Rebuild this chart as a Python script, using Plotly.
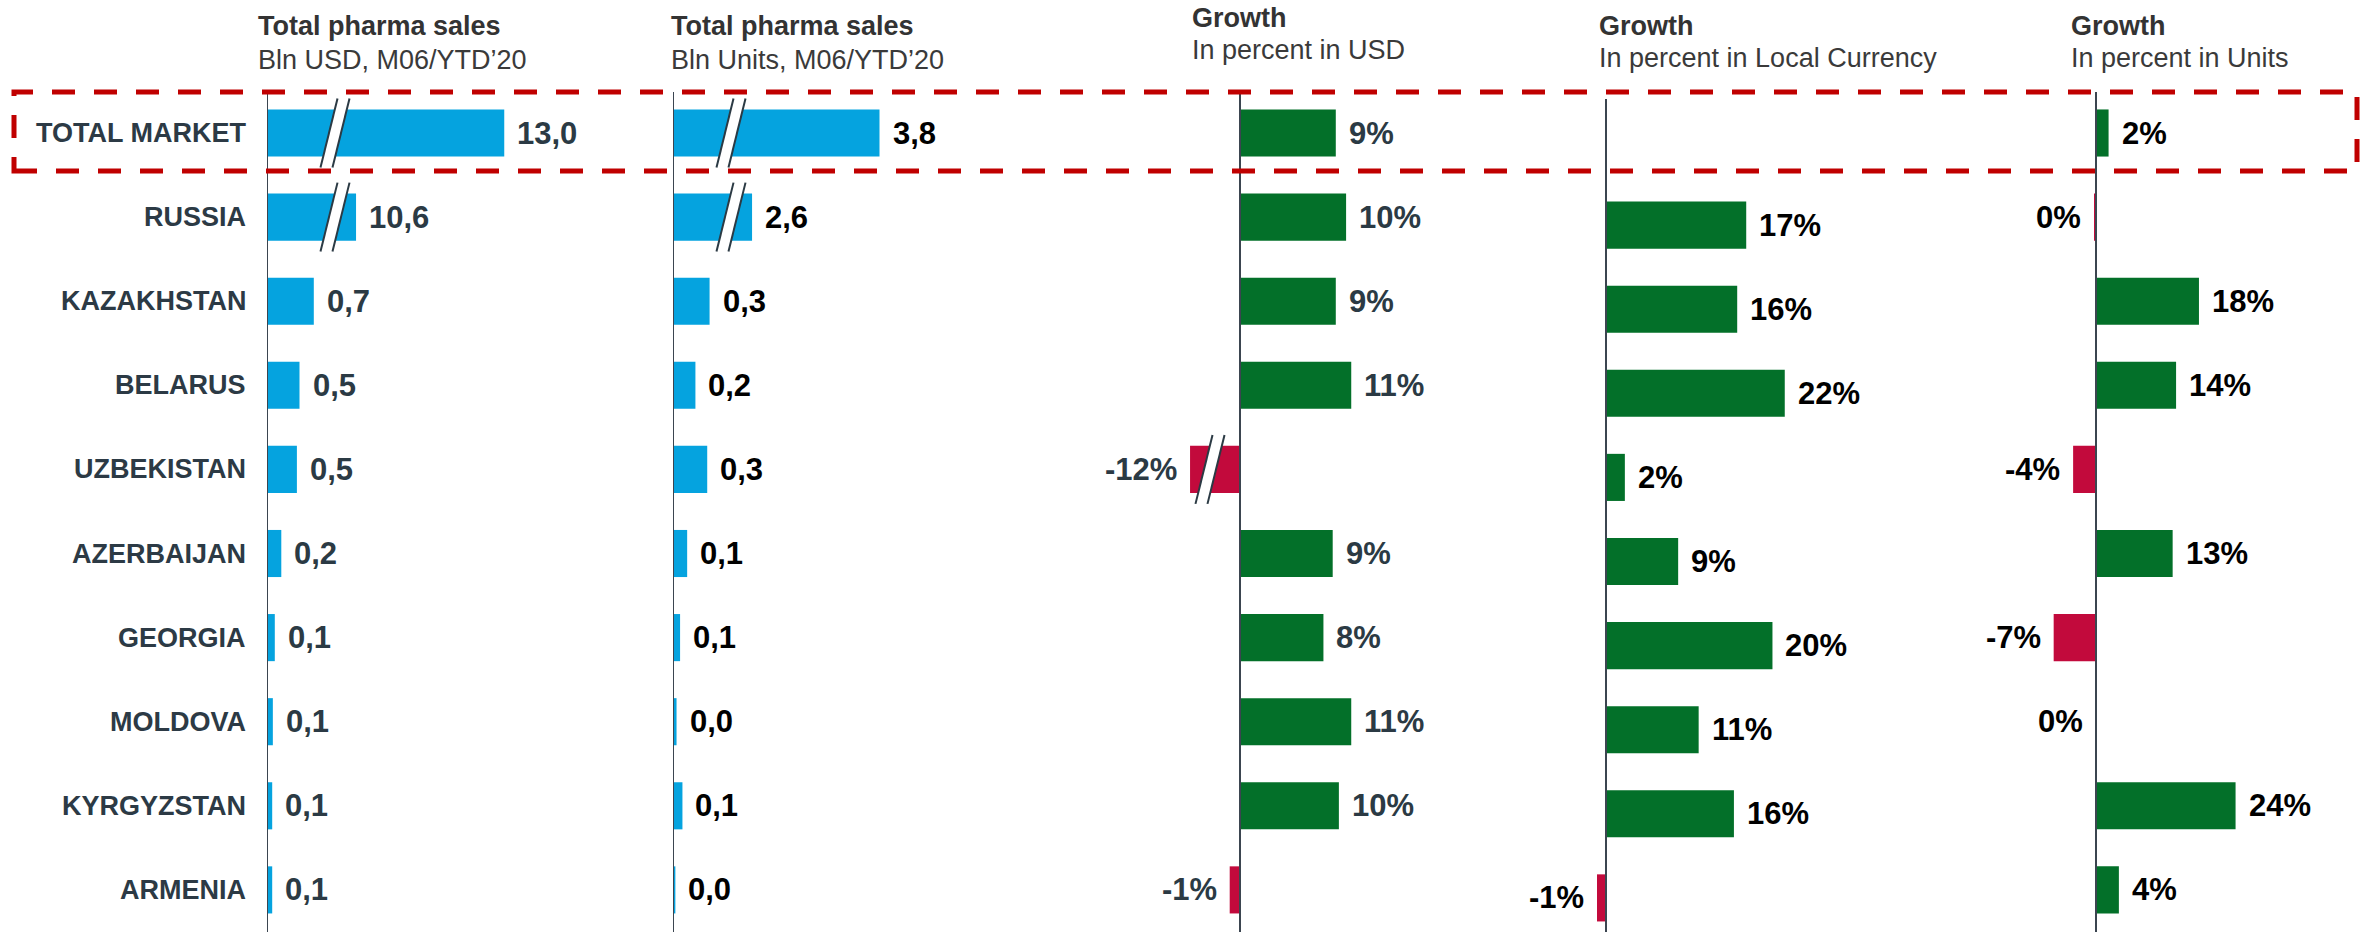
import plotly.graph_objects as go

# ---------------- data ----------------
countries = ["TOTAL MARKET", "RUSSIA", "KAZAKHSTAN", "BELARUS", "UZBEKISTAN",
             "AZERBAIJAN", "GEORGIA", "MOLDOVA", "KYRGYZSTAN", "ARMENIA"]
sales_usd_bln = [13.0, 10.6, 0.72, 0.50, 0.46, 0.22, 0.12, 0.09, 0.08, 0.08]
sales_units_bln = [3.8, 2.6, 0.31, 0.19, 0.29, 0.12, 0.06, 0.03, 0.08, 0.02]
growth_usd_pct = [9.3, 10.3, 9.3, 10.8, -12.0, 9.0, 8.1, 10.8, 9.6, -1.0]
growth_lc_pct = [None, 17.1, 16.0, 21.8, 2.3, 8.8, 20.3, 11.3, 15.6, -1.1]
growth_units_pct = [2.2, -0.3, 18.0, 14.0, -4.0, 13.4, -7.4, -0.04, 24.4, 4.0]

# bars drawn with an axis break: shown (truncated) length in axis units
usd_break_shown = {0: 3.65, 1: 1.37}
units_break_shown = {0: 1.75, 1: 0.67}
growth_usd_break_shown = {4: -4.85}

headers = [
    ("Total pharma sales", "Bln USD, M06/YTD\u201920"),
    ("Total pharma sales", "Bln Units, M06/YTD\u201920"),
    ("Growth", "In percent in USD"),
    ("Growth", "In percent in Local Currency"),
    ("Growth", "In percent in Units"),
]

# ---------------- style / layout ----------------
W, H = 2364, 932
ROW0, PITCH = 133, 84.1
BAR_W = 0.56
FONT = "Liberation Sans, Arial, Helvetica, sans-serif"
BLUE, GREEN, RED = "#05A3DF", "#037029", "#C20A3C"
SLATE = "#2B3A44"
AXIS_C = "#3B4550"
BOX_C = "#C00000"


def yrange(offset=0):
    return [(H - ROW0 - offset) / PITCH, -(ROW0 + offset) / PITCH]


panels = [
    dict(vals=sales_usd_bln, shown=usd_break_shown, zero=267, ppu=65.0, left=267, right=620,
         fmt="dec", lab=SLATE, brk=68, yax="y", top=92, hx=256, hy=(26, 60)),
    dict(vals=sales_units_bln, shown=units_break_shown, zero=673, ppu=118.0, left=673, right=1000,
         fmt="dec", lab="#000000", brk=58, yax="y", top=92, hx=669, hy=(26, 60)),
    dict(vals=growth_usd_pct, shown=growth_usd_break_shown, zero=1240, ppu=10.3, left=1150, right=1500,
         fmt="pct", lab=SLATE, brk=-30, yax="y", top=92, hx=1190, hy=(18, 50)),
    dict(vals=growth_lc_pct, shown={}, zero=1606, ppu=8.2, left=1530, right=1950,
         fmt="pct", lab="#000000", brk=None, yax="y2", top=99, hx=1597, hy=(26, 58)),
    dict(vals=growth_units_pct, shown={}, zero=2096, ppu=5.72, left=2000, right=2350,
         fmt="pct", lab="#000000", brk=None, yax="y", top=92, hx=2069, hy=(26, 58)),
]

fig = go.Figure()
annotations = []
shapes = []
layout = dict(
    width=W, height=H, margin=dict(l=0, r=0, t=0, b=0, pad=0),
    paper_bgcolor="white", plot_bgcolor="white", showlegend=False,
    yaxis=dict(domain=[0, 1], range=yrange(0), visible=False, fixedrange=True),
    yaxis2=dict(domain=[0, 1], range=yrange(8), visible=False, fixedrange=True,
                overlaying="y", anchor="x4"),
)

for i, p in enumerate(panels):
    xa = "x" if i == 0 else f"x{i+1}"
    key = "xaxis" if i == 0 else f"xaxis{i+1}"
    layout[key] = dict(domain=[p["left"] / W, p["right"] / W],
                       range=[(p["left"] - p["zero"]) / p["ppu"], (p["right"] - p["zero"]) / p["ppu"]],
                       visible=False, fixedrange=True, anchor="y")
    rows, xs, cols = [], [], []
    for r, v in enumerate(p["vals"]):
        if v is None:
            continue
        sv = p["shown"].get(r, v)
        rows.append(r)
        xs.append(sv)
        if p["fmt"] == "dec":
            cols.append(BLUE)
        else:
            cols.append(GREEN if v >= 0 else RED)
        txt = f"{v:.1f}".replace(".", ",") if p["fmt"] == "dec" else f"{int(round(v))}%"
        neg = v < 0
        annotations.append(dict(
            x=sv, y=r, xref=xa, yref=p["yax"], text=f"<b>{txt}</b>", showarrow=False,
            xanchor="right" if neg else "left", xshift=-11 if neg else 11, yanchor="middle",
            font=dict(family=FONT, size=31, color=p["lab"])))
    fig.add_trace(go.Bar(x=xs, y=rows, orientation="h", width=BAR_W,
                         marker=dict(color=cols, line=dict(width=0)),
                         xaxis=xa, yaxis=p["yax"], hoverinfo="skip"))
    # vertical axis line
    shapes.append(dict(type="line", xref=xa, yref="paper", x0=0, x1=0, y0=0,
                       y1=1 - p["top"] / H, line=dict(color=AXIS_C, width=2), layer="above"))
    # axis-break marks
    if p["brk"] is not None:
        ppu = p["ppu"]
        xc, w, s = p["brk"] / ppu, 12 / ppu, 17 / ppu
        for r in p["shown"]:
            yt, yb = r - 0.41, r + 0.41
            path = (f"M {xc - w/2 - s/2},{yb} L {xc + w/2 - s/2},{yb} "
                    f"L {xc + w/2 + s/2},{yt} L {xc - w/2 + s/2},{yt} Z")
            shapes.append(dict(type="path", xref=xa, yref=p["yax"], path=path,
                               fillcolor="white", line=dict(width=0), layer="above"))
            for dx in (-w / 2, w / 2):
                shapes.append(dict(type="line", xref=xa, yref=p["yax"],
                                   x0=xc + dx - s / 2, y0=yb, x1=xc + dx + s / 2, y1=yt,
                                   line=dict(color=SLATE, width=2), layer="above"))
    # header
    title, sub = headers[i]
    annotations.append(dict(x=p["hx"] / W, y=1 - p["hy"][0] / H, xref="paper", yref="paper",
                            text=f"<b>{title}</b>", showarrow=False, xanchor="left", yanchor="middle",
                            font=dict(family=FONT, size=27, color="#333333")))
    annotations.append(dict(x=p["hx"] / W, y=1 - p["hy"][1] / H, xref="paper", yref="paper",
                            text=sub, showarrow=False, xanchor="left", yanchor="middle",
                            font=dict(family=FONT, size=27, color="#3A3A3A")))

# category labels
for r, name in enumerate(countries):
    annotations.append(dict(x=248 / W, y=r, xref="paper", yref="y", text=f"<b>{name}</b>",
                            showarrow=False, xanchor="right", yanchor="middle",
                            font=dict(family=FONT, size=27, color="#2C3A45")))

# dashed highlight box around TOTAL MARKET
shapes.append(dict(type="rect", xref="paper", yref="paper", x0=14 / W, x1=2357 / W,
                   y0=1 - 171 / H, y1=1 - 92 / H, line=dict(color=BOX_C, width=5, dash="23px,19px"),
                   fillcolor="rgba(0,0,0,0)", layer="above"))

layout["annotations"] = annotations
layout["shapes"] = shapes
fig.update_layout(**layout)
fig.write_html("out.html")
